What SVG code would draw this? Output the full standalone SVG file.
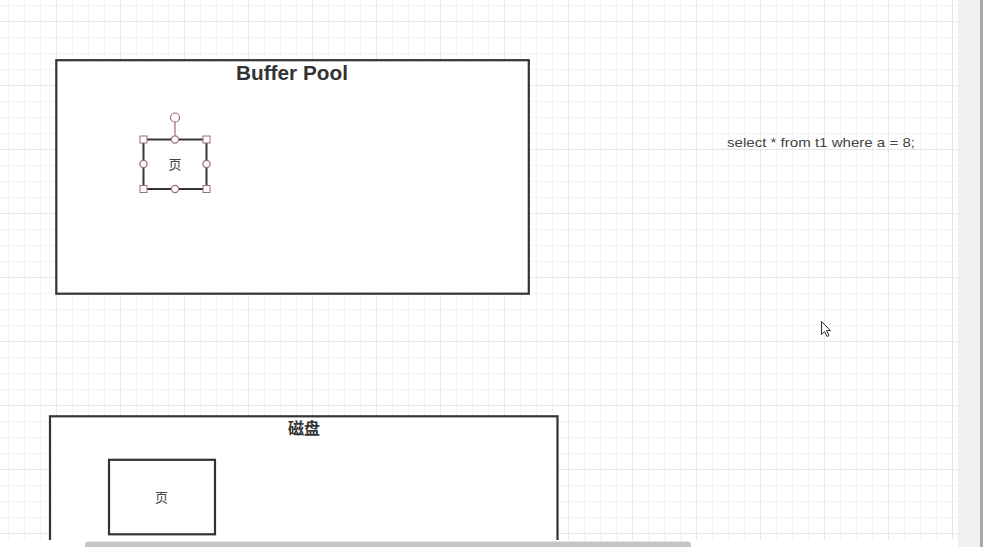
<svg xmlns="http://www.w3.org/2000/svg" width="983" height="547" viewBox="0 0 983 547">
  <defs>
    <pattern id="grid" patternUnits="userSpaceOnUse" x="56" y="21" width="64" height="64">
      <path d="M16.5 0V64M32.5 0V64M48.5 0V64M0 16.5H64M0 32.5H64M0 48.5H64" stroke="#f3f3f3" stroke-width="1" fill="none"/>
      <path d="M0.5 0V64M0 0.5H64" stroke="#e7e7e7" stroke-width="1" fill="none"/>
    </pattern>
    <clipPath id="canvas"><rect x="0" y="0" width="958" height="540"/></clipPath>
  </defs>
  <style>
    .box { fill: #ffffff; stroke: #333333; stroke-width: 2.2; }
    .title { font-family: "Liberation Sans", "Noto Sans CJK SC", sans-serif; font-weight: bold; fill: #333333; text-anchor: middle; }
    .label { font-family: "Liberation Sans", "Noto Sans CJK SC", sans-serif; font-size: 13px; fill: #444444; text-anchor: middle; }
    .sq { fill: #ffffff; stroke: #9b6f6f; stroke-width: 1; }
    .ci { fill: #ffffff; stroke: #9b6f6f; stroke-width: 1.2; }
  </style>

  <rect x="0" y="0" width="983" height="547" fill="#ffffff"/>
  <rect x="0" y="0" width="958" height="540" fill="url(#grid)"/>

  <g clip-path="url(#canvas)">
    <g id="buffer-pool">
      <rect class="box" x="56.3" y="60.2" width="472.5" height="233.5"/>
      <text class="title" x="292" y="80" font-size="20.8">Buffer Pool</text>
    </g>

    <g id="page-buffer">
      <rect x="143.5" y="139.5" width="63" height="49.5" fill="#ffffff" stroke="#3b3333" stroke-width="2"/>
      <text class="label" x="175" y="169">页</text>
      <line x1="175" y1="122" x2="175" y2="135.5" stroke="#9b6f6f" stroke-width="1.2"/>
      <circle class="ci" cx="175" cy="117.5" r="4.5"/>
      <rect class="sq" x="140" y="136" width="7" height="7"/>
      <rect class="sq" x="203" y="136" width="7" height="7"/>
      <rect class="sq" x="140" y="185.5" width="7" height="7"/>
      <rect class="sq" x="203" y="185.5" width="7" height="7"/>
      <circle class="ci" cx="175" cy="139.5" r="3.6"/>
      <circle class="ci" cx="175" cy="189" r="3.6"/>
      <circle class="ci" cx="143.5" cy="164" r="3.6"/>
      <circle class="ci" cx="206.5" cy="164" r="3.6"/>
    </g>

    <g id="disk">
      <rect class="box" x="50" y="416.3" width="507.5" height="160"/>
      <text class="title" x="304" y="433.5" font-size="16">磁盘</text>
    </g>

    <g id="page-disk">
      <rect class="box" x="109" y="459.8" width="106" height="74.5"/>
      <text class="label" x="161.5" y="502">页</text>
    </g>

    <g id="sql-text">
      <text x="727" y="147" font-family="'Liberation Sans', sans-serif" font-size="13.5" fill="#444444" textLength="188" lengthAdjust="spacingAndGlyphs">select * from t1 where a = 8;</text>
    </g>

    <g id="connectors"/>

    <g id="cursor">
      <path d="M821.5 321.5 L821.5 334.5 L824.5 331.5 L827 336.5 L829 335.5 L826.6 330.6 L830.5 330.6 Z" fill="#ffffff" stroke="#333333" stroke-width="1" stroke-linejoin="round"/>
    </g>
  </g>

  <rect x="958" y="0" width="25" height="547" fill="#f0f0f0"/>
  <rect x="980" y="0" width="3" height="547" fill="#a8a8a8"/>
  <rect x="0" y="540" width="958" height="7" fill="#ffffff"/>
  <rect x="85" y="541.5" width="606" height="8" rx="3" fill="#c6c6c6"/>
</svg>
